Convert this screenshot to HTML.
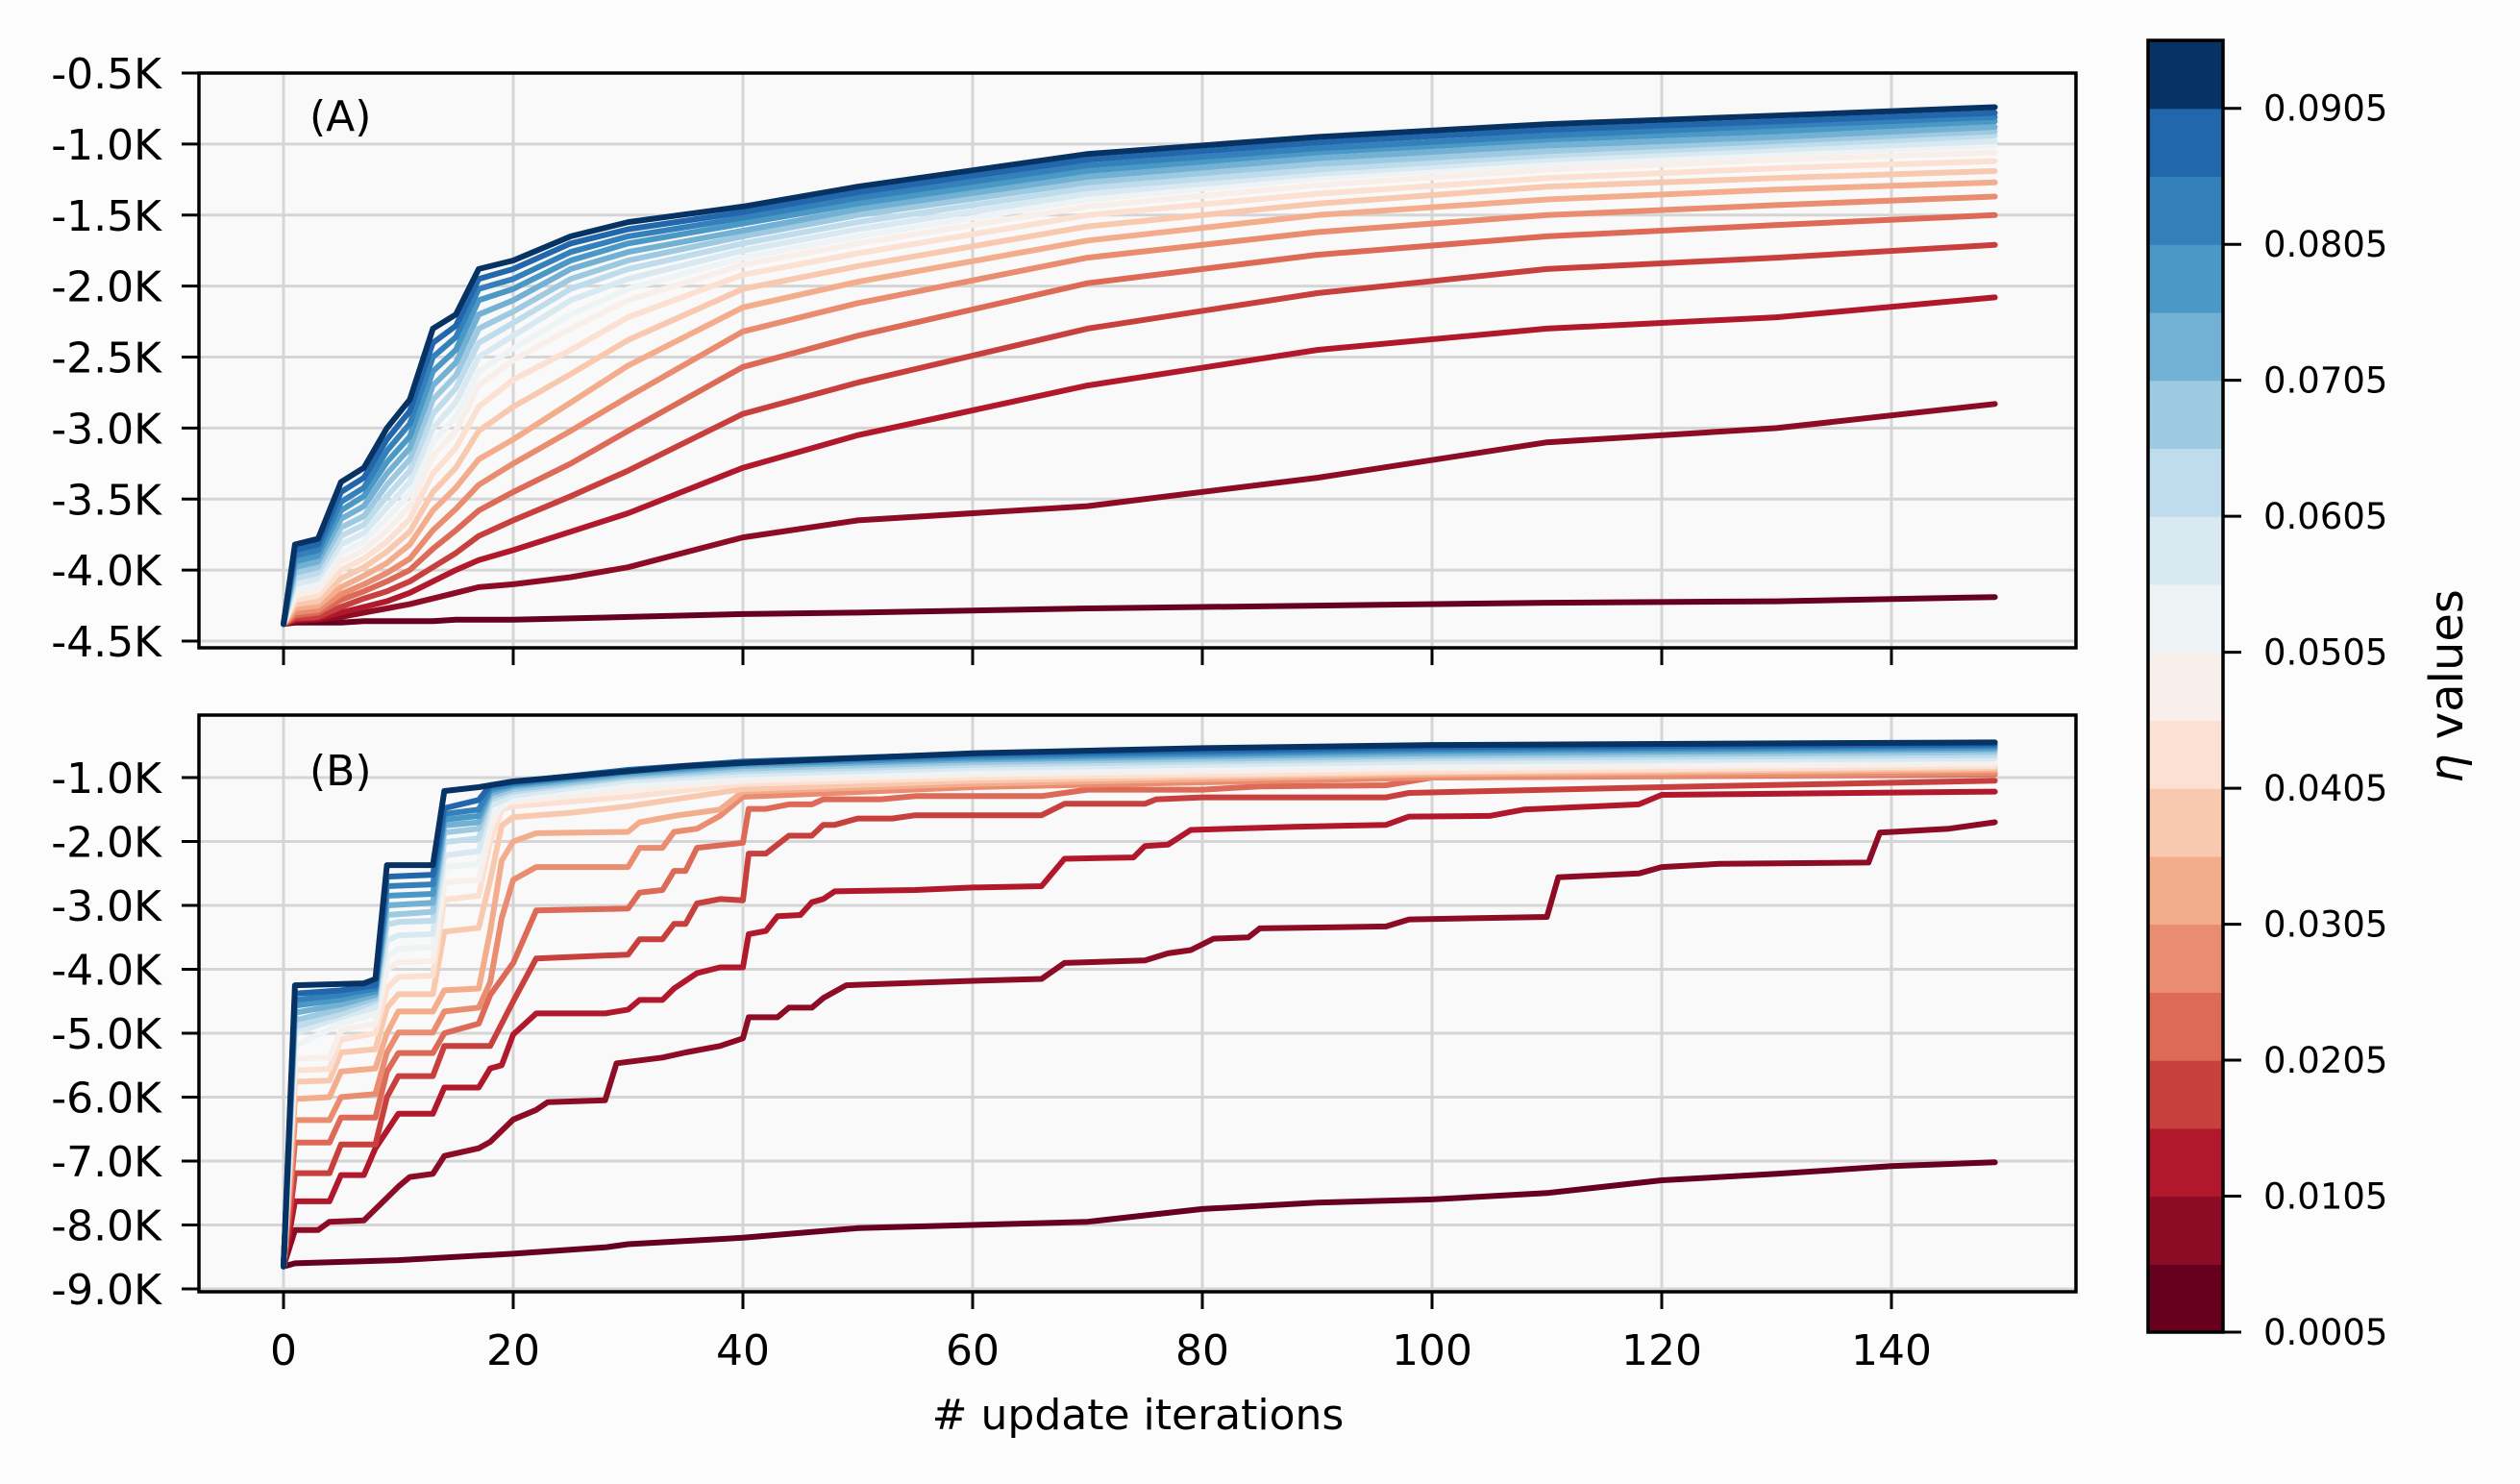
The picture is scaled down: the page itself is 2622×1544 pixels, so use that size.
<!DOCTYPE html>
<html><head><meta charset="utf-8"><style>
html,body{margin:0;padding:0;background:#fcfcfc;}
svg{display:block;font-family:"DejaVu Sans","Liberation Sans",sans-serif;}
</style></head><body>
<svg id="fig" width="2622" height="1544" viewBox="0 0 2622 1544">
<rect x="0" y="0" width="2622" height="1544" fill="#fcfcfc"/>
<defs>
<clipPath id="clipA"><rect x="207" y="76" width="1953" height="598"/></clipPath>
<clipPath id="clipB"><rect x="207" y="744" width="1953" height="600"/></clipPath>
</defs>
<g id="panelA"></g>
<g id="panelB"></g>
<g id="cbar"></g>
<text x="1184" y="1487" font-size="44" text-anchor="middle" fill="#000"># update iterations</text>
<text transform="translate(2562,714) rotate(-90)" font-size="48" text-anchor="middle" fill="#000"><tspan font-style="italic">η</tspan> values</text>
</svg>
<script>
const etaValues = [0.0005,0.0055,0.0105,0.0155,0.0205,0.0255,0.0305,0.0355,0.0405,0.0455,0.0505,0.0555,0.0605,0.0655,0.0705,0.0755,0.0805,0.0855,0.0905];
const bandColors = ['#67001f','#8c0c25','#b2182b','#c8403e','#dc6a56','#ea8c6f','#f4ad8c','#f9c9af','#fce1d2','#f9efea','#eef3f5','#d9e9f1','#bfdcec','#9ecae1','#72b0d4','#4a98c6','#3480ba','#2267ac','#063264'];
const xTicks = [0,20,40,60,80,100,120,140];
const topYTicks = [-0.5,-1.0,-1.5,-2.0,-2.5,-3.0,-3.5,-4.0,-4.5];
const botYTicks = [-1,-2,-3,-4,-5,-6,-7,-8,-9];
const cbarTicks = [0.0005,0.0105,0.0205,0.0305,0.0405,0.0505,0.0605,0.0705,0.0805,0.0905];

const topIters = [0,1,3,5,7,9,11,13,15,17,20,25,30,40,50,70,90,110,130,149];
const topL00 = [-4.38,-4.37,-4.37,-4.37,-4.36,-4.36,-4.36,-4.36,-4.35,-4.35,-4.35,-4.34,-4.33,-4.31,-4.30,-4.27,-4.25,-4.23,-4.22,-4.19];
const topL01 = [-4.38,-4.36,-4.35,-4.33,-4.3,-4.27,-4.24,-4.2,-4.16,-4.12,-4.1,-4.05,-3.98,-3.77,-3.65,-3.55,-3.35,-3.1,-3.0,-2.83];
const topL02 = [-4.38,-4.35,-4.34,-4.3,-4.26,-4.22,-4.16,-4.08,-4.0,-3.93,-3.86,-3.73,-3.6,-3.28,-3.05,-2.7,-2.45,-2.3,-2.22,-2.08];
const topL03 = [-4.38,-4.34,-4.33,-4.26,-4.2,-4.15,-4.08,-3.98,-3.88,-3.76,-3.65,-3.48,-3.3,-2.9,-2.68,-2.3,-2.05,-1.88,-1.8,-1.71];
const topL04 = [-4.38,-4.32,-4.3,-4.21,-4.15,-4.08,-4.0,-3.85,-3.72,-3.58,-3.45,-3.25,-3.02,-2.57,-2.35,-1.98,-1.78,-1.65,-1.57,-1.5];
const topL05 = [-4.38,-4.3,-4.28,-4.17,-4.1,-4.02,-3.92,-3.72,-3.57,-3.4,-3.25,-3.02,-2.78,-2.32,-2.12,-1.8,-1.62,-1.5,-1.43,-1.37];
const topL06 = [-4.38,-4.27,-4.25,-4.12,-4.04,-3.95,-3.82,-3.58,-3.42,-3.22,-3.08,-2.82,-2.56,-2.15,-1.97,-1.68,-1.5,-1.39,-1.32,-1.27];
const topL07 = [-4.38,-4.24,-4.22,-4.06,-3.98,-3.87,-3.73,-3.45,-3.28,-3.02,-2.85,-2.62,-2.38,-2.02,-1.86,-1.58,-1.42,-1.3,-1.24,-1.19];
const topL08 = [-4.38,-4.21,-4.18,-4.0,-3.92,-3.8,-3.64,-3.32,-3.14,-2.85,-2.66,-2.45,-2.22,-1.92,-1.77,-1.5,-1.35,-1.24,-1.17,-1.12];
const topL09 = [-4.38,-4.18,-4.14,-3.94,-3.86,-3.72,-3.55,-3.2,-3.02,-2.7,-2.52,-2.3,-2.1,-1.85,-1.7,-1.44,-1.29,-1.18,-1.11,-1.06];
const topL10 = [-4.38,-4.14,-4.1,-3.88,-3.8,-3.64,-3.46,-3.1,-2.92,-2.6,-2.44,-2.2,-2.02,-1.8,-1.65,-1.39,-1.24,-1.14,-1.07,-1.01];
const topL11 = [-4.38,-4.1,-4.06,-3.82,-3.74,-3.56,-3.38,-3.0,-2.82,-2.5,-2.35,-2.1,-1.95,-1.75,-1.6,-1.35,-1.21,-1.11,-1.04,-0.98];
const topL12 = [-4.38,-4.06,-4.02,-3.76,-3.68,-3.48,-3.3,-2.9,-2.72,-2.4,-2.26,-2.02,-1.88,-1.7,-1.55,-1.31,-1.18,-1.08,-1.01,-0.94];
const topL13 = [-4.38,-4.02,-3.98,-3.7,-3.62,-3.4,-3.22,-2.8,-2.63,-2.3,-2.18,-1.95,-1.82,-1.65,-1.5,-1.27,-1.14,-1.05,-0.98,-0.91];
const topL14 = [-4.38,-3.98,-3.94,-3.64,-3.55,-3.32,-3.14,-2.7,-2.54,-2.2,-2.1,-1.88,-1.76,-1.61,-1.46,-1.23,-1.1,-1.01,-0.95,-0.88];
const topL15 = [-4.38,-3.94,-3.9,-3.58,-3.48,-3.24,-3.06,-2.6,-2.45,-2.1,-2.02,-1.82,-1.7,-1.56,-1.42,-1.19,-1.06,-0.97,-0.91,-0.84];
const topL16 = [-4.38,-3.9,-3.86,-3.52,-3.42,-3.16,-2.97,-2.5,-2.36,-2.02,-1.95,-1.76,-1.65,-1.52,-1.38,-1.15,-1.03,-0.94,-0.87,-0.81];
const topL17 = [-4.38,-3.86,-3.82,-3.45,-3.35,-3.08,-2.88,-2.4,-2.28,-1.95,-1.88,-1.7,-1.6,-1.48,-1.34,-1.11,-0.99,-0.9,-0.84,-0.78];
const topL18 = [-4.38,-3.82,-3.78,-3.38,-3.28,-3.0,-2.8,-2.3,-2.2,-1.88,-1.82,-1.65,-1.55,-1.44,-1.3,-1.07,-0.95,-0.86,-0.8,-0.74];

const botL00 = [[0,-8.65],[1,-8.6],[10,-8.55],[20,-8.45],[28,-8.35],[30,-8.3],[40,-8.2],[50,-8.05],[60,-8.0],[70,-7.95],[80,-7.75],[90,-7.65],[100,-7.6],[110,-7.5],[120,-7.3],[130,-7.2],[140,-7.08],[149,-7.02]];
const botL01 = [[0,-8.65],[1,-8.08],[3,-8.08],[4,-7.95],[7,-7.93],[10,-7.4],[11,-7.25],[13,-7.2],[14,-6.92],[17,-6.8],[18,-6.7],[20,-6.35],[22,-6.2],[23,-6.08],[28,-6.05],[29,-5.47],[33,-5.38],[35,-5.3],[38,-5.2],[40,-5.08],[40.5,-4.75],[43,-4.75],[44,-4.6],[46,-4.6],[47,-4.45],[49,-4.25],[60,-4.18],[66,-4.15],[68,-3.9],[75,-3.86],[77,-3.75],[79,-3.7],[81,-3.52],[84,-3.5],[85,-3.36],[96,-3.33],[98,-3.22],[110,-3.18],[111,-2.56],[118,-2.5],[120,-2.4],[125,-2.35],[138,-2.33],[139,-1.86],[145,-1.8],[149,-1.7]];
const botL02 = [[0,-8.65],[1,-7.63],[4,-7.63],[5,-7.22],[7,-7.22],[8,-6.8],[10,-6.26],[13,-6.26],[14,-5.85],[17,-5.85],[18,-5.55],[19,-5.5],[20,-5.02],[22,-4.69],[28,-4.69],[30,-4.63],[31,-4.48],[33,-4.48],[34,-4.3],[36,-4.06],[38,-3.97],[40,-3.97],[40.5,-3.45],[42,-3.4],[43,-3.17],[45,-3.15],[46,-2.95],[47,-2.9],[48,-2.78],[55,-2.76],[60,-2.72],[66,-2.7],[68,-2.27],[74,-2.25],[75,-2.07],[77,-2.05],[79,-1.82],[88,-1.77],[96,-1.74],[98,-1.61],[105,-1.6],[108,-1.5],[118,-1.42],[120,-1.27],[149,-1.22]];
const botL03 = [[0,-8.65],[1,-7.19],[4,-7.19],[5,-6.74],[8,-6.74],[9,-6.0],[10,-5.67],[13,-5.67],[14,-5.2],[18,-5.2],[20,-4.5],[22,-3.83],[30,-3.77],[31,-3.53],[33,-3.53],[34,-3.29],[35,-3.29],[36,-2.97],[38,-2.9],[40,-2.92],[40.5,-2.19],[42,-2.19],[44,-1.91],[46,-1.91],[47,-1.74],[48,-1.74],[50,-1.64],[53,-1.64],[55,-1.59],[66,-1.59],[68,-1.41],[75,-1.41],[76,-1.34],[80,-1.31],[96,-1.31],[98,-1.24],[120,-1.15],[149,-1.05]];
const botL04 = [[0,-8.65],[1,-6.71],[4,-6.71],[5,-6.32],[8,-6.32],[9,-5.6],[10,-5.31],[13,-5.31],[14,-5.0],[17,-4.85],[18,-4.4],[20,-3.9],[22,-3.08],[30,-3.05],[31,-2.8],[33,-2.76],[34,-2.46],[35,-2.46],[36,-2.1],[39,-2.04],[40,-2.02],[40.5,-1.49],[42,-1.49],[44,-1.42],[46,-1.42],[47,-1.34],[52,-1.34],[55,-1.29],[66,-1.29],[70,-1.19],[80,-1.19],[85,-1.14],[96,-1.12],[100,-1.0],[149,-0.95]];
const botL05 = [[0,-8.65],[1,-6.36],[4,-6.36],[5,-6.0],[8,-5.95],[9,-5.3],[10,-4.99],[13,-4.99],[14,-4.66],[17,-4.6],[18,-4.2],[19,-3.2],[20,-2.6],[22,-2.4],[30,-2.4],[31,-2.1],[33,-2.1],[34,-1.85],[36,-1.8],[38,-1.6],[40,-1.3],[60,-1.15],[100,-1.0],[149,-0.93]];
const botL06 = [[0,-8.65],[1,-6.03],[4,-6.0],[5,-5.6],[8,-5.55],[9,-5.0],[10,-4.66],[13,-4.66],[14,-4.33],[17,-4.3],[18,-3.4],[19,-2.3],[20,-2.0],[22,-1.87],[30,-1.85],[31,-1.7],[34,-1.6],[38,-1.5],[40,-1.22],[60,-1.1],[100,-0.95],[149,-0.88]];
const botL07 = [[0,-8.65],[1,-5.76],[4,-5.74],[5,-5.3],[8,-5.25],[9,-4.6],[10,-4.39],[13,-4.39],[14,-3.41],[17,-3.35],[18,-2.6],[19,-1.75],[20,-1.62],[25,-1.55],[30,-1.45],[40,-1.18],[60,-1.05],[100,-0.92],[149,-0.85]];
const botL08 = [[0,-8.65],[1,-5.58],[4,-5.56],[5,-5.1],[8,-5.0],[9,-4.3],[10,-4.12],[13,-4.1],[14,-2.91],[17,-2.85],[18,-2.0],[19,-1.5],[20,-1.45],[30,-1.3],[40,-1.1],[60,-1.0],[100,-0.9],[149,-0.82]];
const botL09 = [[0,-8.65],[1,-5.4],[4,-5.38],[5,-4.95],[8,-4.85],[9,-4.0],[10,-3.89],[13,-3.87],[14,-2.64],[17,-2.6],[18,-1.8],[19,-1.4],[20,-1.38],[30,-1.2],[40,-1.05],[60,-0.95],[100,-0.85],[149,-0.78]];
const botL10 = [[0,-8.65],[1,-5.2],[5,-4.85],[8,-4.7],[9,-3.8],[10,-3.68],[13,-3.65],[14,-2.4],[17,-2.35],[18,-1.6],[20,-1.33],[30,-1.12],[40,-1.0],[60,-0.9],[100,-0.8],[149,-0.74]];
const botL11 = [[0,-8.65],[1,-5.0],[5,-4.75],[8,-4.6],[9,-3.55],[10,-3.47],[13,-3.45],[14,-2.22],[17,-2.15],[18,-1.45],[20,-1.28],[30,-1.05],[40,-0.95],[60,-0.85],[100,-0.75],[149,-0.7]];
const botL12 = [[0,-8.65],[1,-4.9],[5,-4.7],[8,-4.5],[9,-3.3],[10,-3.26],[13,-3.24],[14,-2.01],[17,-1.95],[18,-1.35],[20,-1.22],[30,-1.0],[40,-0.9],[60,-0.8],[100,-0.7],[149,-0.65]];
const botL13 = [[0,-8.65],[1,-4.8],[5,-4.62],[8,-4.45],[9,-3.15],[13,-3.1],[14,-1.86],[17,-1.8],[18,-1.3],[20,-1.18],[30,-0.98],[40,-0.86],[60,-0.76],[100,-0.66],[149,-0.6]];
const botL14 = [[0,-8.65],[1,-4.68],[5,-4.55],[8,-4.4],[9,-3.0],[13,-2.96],[14,-1.75],[17,-1.7],[18,-1.25],[20,-1.14],[30,-0.95],[40,-0.82],[60,-0.72],[100,-0.62],[149,-0.56]];
const botL15 = [[0,-8.65],[1,-4.57],[5,-4.47],[8,-4.35],[9,-2.85],[13,-2.82],[14,-1.66],[17,-1.6],[18,-1.2],[20,-1.11],[30,-0.92],[40,-0.79],[60,-0.69],[100,-0.58],[149,-0.53]];
const botL16 = [[0,-8.65],[1,-4.48],[5,-4.4],[8,-4.3],[9,-2.7],[13,-2.67],[14,-1.57],[17,-1.5],[18,-1.16],[20,-1.09],[30,-0.9],[40,-0.77],[60,-0.66],[100,-0.55],[149,-0.5]];
const botL17 = [[0,-8.65],[1,-4.38],[5,-4.33],[8,-4.25],[9,-2.55],[13,-2.52],[14,-1.48],[17,-1.35],[18,-1.12],[20,-1.07],[30,-0.88],[40,-0.75],[60,-0.63],[100,-0.52],[149,-0.48]];
const botL18 = [[0,-8.65],[1,-4.25],[7,-4.22],[8,-4.15],[9,-2.37],[13,-2.37],[14,-1.21],[17,-1.15],[20,-1.06],[25,-0.98],[30,-0.9],[35,-0.82],[40,-0.77],[60,-0.62],[80,-0.54],[100,-0.49],[149,-0.45]];

const topSeries = [topL00,topL01,topL02,topL03,topL04,topL05,topL06,topL07,topL08,topL09,topL10,topL11,topL12,topL13,topL14,topL15,topL16,topL17,topL18];
const botSeries = [botL00,botL01,botL02,botL03,botL04,botL05,botL06,botL07,botL08,botL09,botL10,botL11,botL12,botL13,botL14,botL15,botL16,botL17,botL18];

const NS = 'http://www.w3.org/2000/svg';
function mk(tag, attrs, parent){const e=document.createElementNS(NS,tag);for(const k in attrs)e.setAttribute(k,attrs[k]);parent.appendChild(e);return e;}
const L=207,R=2160;
function xScale(it){return 295 + it*11.95;}
function yTop(v){return 76 + (-0.5 - v)*147.75;}
function yBot(v){return 809 + (-1 - v)*66.5;}
function fmtK(v){return v.toFixed(1)+'K';}

function drawPanel(g, top, bottom, yTicks, yFn, clipId, label, labelY, drawXLabels){
  const bg = mk('rect',{x:L,y:top,width:R-L,height:bottom-top,fill:'#f9f9f9'},g);
  
  
  xTicks.forEach(t=>{
    const x=xScale(t);
    const gl=mk('line',{x1:x,x2:x,y1:top,y2:bottom,stroke:'#d5d5d5','stroke-width':3},g);
    
    
    const tk=mk('line',{x1:x,x2:x,y1:bottom,y2:bottom+18,stroke:'#000','stroke-width':3},g);
    
    
    if(drawXLabels){
      const tl=mk('text',{x:x,y:1420,'font-size':44,'text-anchor':'middle',fill:'#000'},g);
      tl.textContent=String(t);
      
      
    }
  });
  yTicks.forEach(v=>{
    const y=yFn(v);
    const gl=mk('line',{x1:L,x2:R,y1:y,y2:y,stroke:'#d5d5d5','stroke-width':3},g);
    
    
    const tk=mk('line',{x1:L-18,x2:L,y1:y,y2:y,stroke:'#000','stroke-width':3},g);
    
    
    const tl=mk('text',{x:168,y:y+16,'font-size':44,'text-anchor':'end',fill:'#000'},g);
    tl.textContent=fmtK(v);
    
    
  });
  const lab=mk('text',{x:322,y:labelY,'font-size':44,fill:'#000'},g);
  lab.textContent=label;
  
  
  const lines=mk('g',{'clip-path':'url(#'+clipId+')'},g);
  
  
  return lines;
}

const gA=document.getElementById('panelA');
const linesA=drawPanel(gA,76,674,topYTicks,yTop,'clipA','(A)',136,false);
topSeries.forEach((vals,i)=>{
  const d=vals.map((v,j)=>(j?'L':'M')+xScale(topIters[j]).toFixed(1)+','+yTop(v).toFixed(1)).join(' ');
  const p=mk('path',{d:d,fill:'none',stroke:bandColors[i],'stroke-width':6,'stroke-linejoin':'round','stroke-linecap':'round'},linesA);
  
  
});
const spA=mk('rect',{x:L,y:76,width:R-L,height:598,fill:'none',stroke:'#000','stroke-width':3.5},gA);



const gB=document.getElementById('panelB');
const linesB=drawPanel(gB,744,1344,botYTicks,yBot,'clipB','(B)',817,true);
botSeries.forEach((pts,i)=>{
  const d=pts.map((p,j)=>(j?'L':'M')+xScale(p[0]).toFixed(1)+','+yBot(p[1]).toFixed(1)).join(' ');
  const p=mk('path',{d:d,fill:'none',stroke:bandColors[i],'stroke-width':6,'stroke-linejoin':'round','stroke-linecap':'round'},linesB);
  
  
});
const spB=mk('rect',{x:L,y:744,width:R-L,height:600,fill:'none',stroke:'#000','stroke-width':3.5},gB);



// colorbar
const cb=document.getElementById('cbar');
const cbX=2235,cbW=78,cbTop=42,cbBot=1386,band=(cbBot-cbTop)/bandColors.length;
function yCbar(v){return cbBot-(v-0.0005)/0.005*band;}
bandColors.forEach((c,i)=>{
  const r=mk('rect',{x:cbX,y:(cbBot-(i+1)*band).toFixed(2),width:cbW,height:(band+0.6).toFixed(2),fill:c},cb);
  
  
});
const cbf=mk('rect',{x:cbX,y:cbTop,width:cbW,height:cbBot-cbTop,fill:'none',stroke:'#000','stroke-width':3.5},cb);


cbarTicks.forEach(v=>{
  const y=yCbar(v);
  const t=mk('line',{x1:cbX+cbW,x2:cbX+cbW+19,y1:y,y2:y,stroke:'#000','stroke-width':3},cb);
  
  
  const tl=mk('text',{x:2355,y:y+13,'font-size':37,fill:'#000'},cb);
  tl.textContent=v.toFixed(4);
  
  
});
</script>
</body></html>
